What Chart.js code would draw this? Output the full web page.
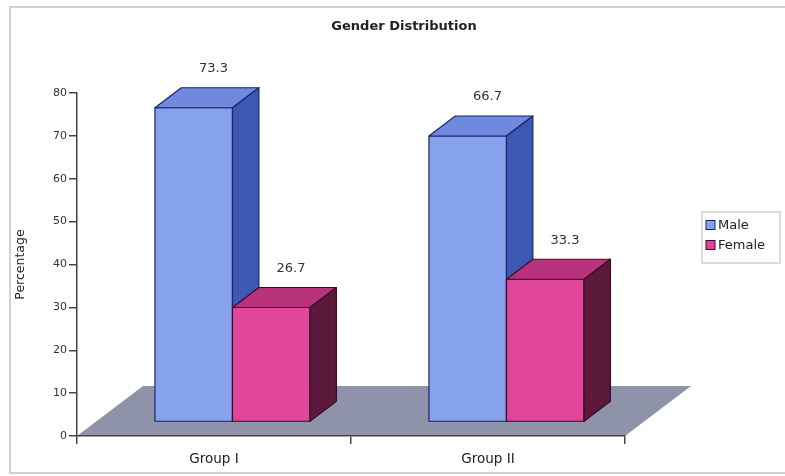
<!DOCTYPE html>
<html>
<head>
<meta charset="utf-8">
<script src="https://cdn.jsdelivr.net/npm/chart.js@4/dist/chart.umd.min.js"></script>
<style>
  html, body { margin: 0; padding: 0; background: #fff; }
  #wrap { width: 785px; height: 476px; }
</style>
</head>
<body>
<div id="wrap"><canvas id="chart" width="785" height="476"></canvas></div>
<script>
// Categories, series and axis ticks
const groups = ['Group I', 'Group II'];
const maleValues = [73.3, 66.7];
const femaleValues = [26.7, 33.3];
const percentTicks = [0, 10, 20, 30, 40, 50, 60, 70, 80];

const FONT = 'DejaVu Sans';

// Perspective of the floor and where the columns sit inside its depth
const DEPTH = { dx: 66, dy: -50 };
const BAR_FRONT = 0.28;
const BAR_BACK = 0.68;

const faces = {
  Male:   { front: '#87a2ec', top: '#6e89dd', side: '#3d58b2', edge: '#1c2565' },
  Female: { front: '#e1469d', top: '#b9337c', side: '#5b1a3c', edge: '#3a0c24' }
};

function poly(ctx, pts, fill, stroke) {
  ctx.beginPath();
  ctx.moveTo(pts[0][0], pts[0][1]);
  for (let i = 1; i < pts.length; i++) ctx.lineTo(pts[i][0], pts[i][1]);
  ctx.closePath();
  ctx.fillStyle = fill;
  ctx.fill();
  if (stroke) {
    ctx.strokeStyle = stroke;
    ctx.lineWidth = 1.2;
    ctx.lineJoin = 'round';
    ctx.stroke();
  }
}

const column3d = {
  id: 'column3d',
  beforeDraw(chart) {
    const ctx = chart.ctx;
    const area = chart.chartArea;
    ctx.save();
    ctx.fillStyle = '#ffffff';
    ctx.fillRect(0, 0, chart.width, chart.height);
    // outer frame
    ctx.strokeStyle = '#d2d2d2';
    ctx.lineWidth = 2;
    ctx.strokeRect(10, 7, chart.width + 10, chart.height - 10);
    // floor
    const y0 = chart.scales.y.getPixelForValue(0);
    poly(ctx, [
      [area.left, y0],
      [area.right, y0],
      [area.right + DEPTH.dx, y0 + DEPTH.dy],
      [area.left + DEPTH.dx, y0 + DEPTH.dy]
    ], '#8e93a9');
    ctx.restore();
  },
  beforeDatasetDraw() {
    return false;
  },
  afterDatasetsDraw(chart) {
    const ctx = chart.ctx;
    const fx = DEPTH.dx * BAR_FRONT, fy = DEPTH.dy * BAR_FRONT;
    const bx = DEPTH.dx * (BAR_BACK - BAR_FRONT), by = DEPTH.dy * (BAR_BACK - BAR_FRONT);
    ctx.save();
    chart.data.labels.forEach((_, i) => {
      chart.data.datasets.forEach((ds, d) => {
        const el = chart.getDatasetMeta(d).data[i];
        const c = faces[ds.label];
        const l = el.x - el.width / 2 + fx;
        const r = el.x + el.width / 2 + fx;
        const t = el.y + fy;
        const b = el.base + fy;
        poly(ctx, [[l, t], [r, t], [r, b], [l, b]], c.front, c.edge);
        poly(ctx, [[l, t], [r, t], [r + bx, t + by], [l + bx, t + by]], c.top, c.edge);
        poly(ctx, [[r, t], [r + bx, t + by], [r + bx, b + by], [r, b]], c.side, c.edge);
      });
    });
    // value labels above each column
    ctx.font = '13px "' + FONT + '"';
    ctx.fillStyle = '#333';
    ctx.textAlign = 'center';
    ctx.textBaseline = 'middle';
    chart.data.datasets.forEach((ds, d) => {
      chart.getDatasetMeta(d).data.forEach((el, i) => {
        const x = el.x + fx + bx * 0.75;
        const y = el.y + fy + by - 19;
        ctx.fillText(ds.data[i].toFixed(1), x, y);
      });
    });
    ctx.restore();
  },
  afterDraw(chart) {
    const ctx = chart.ctx;
    ctx.save();
    // title
    ctx.font = 'bold 13px "' + FONT + '"';
    ctx.fillStyle = '#222';
    ctx.textAlign = 'center';
    ctx.textBaseline = 'middle';
    ctx.fillText('Gender Distribution', 404, 27);
    // legend
    ctx.strokeStyle = '#cfcfcf';
    ctx.lineWidth = 1.5;
    ctx.strokeRect(702, 212, 78, 51);
    ctx.font = '13px "' + FONT + '"';
    ctx.textAlign = 'left';
    chart.data.datasets.forEach((ds, d) => {
      const c = faces[ds.label];
      const cy = 225 + d * 20;
      ctx.fillStyle = c.front;
      ctx.fillRect(706, cy - 4.5, 9, 9);
      ctx.strokeStyle = c.edge;
      ctx.lineWidth = 1;
      ctx.strokeRect(706, cy - 4.5, 9, 9);
      ctx.fillStyle = '#222';
      ctx.fillText(ds.label, 718, cy + 0.5);
    });
    ctx.restore();
  }
};

new Chart(document.getElementById('chart'), {
  type: 'bar',
  data: {
    labels: groups,
    datasets: [
      { label: 'Male', data: maleValues, backgroundColor: faces.Male.front },
      { label: 'Female', data: femaleValues, backgroundColor: faces.Female.front }
    ]
  },
  options: {
    responsive: false,
    animation: false,
    devicePixelRatio: 1,
    layout: { padding: { top: 93, left: 0, right: 160, bottom: 0 } },
    categoryPercentage: 0.566,
    barPercentage: 1,
    plugins: {
      legend: { display: false },
      title: { display: false },
      tooltip: { enabled: false }
    },
    scales: {
      x: {
        afterFit: s => { s.height = 40; },
        grid: { offset: true, drawOnChartArea: false, drawTicks: true, tickLength: 8, color: '#444', lineWidth: 1.5 },
        border: { color: '#444', width: 1.5 },
        ticks: { padding: 7, color: '#222', font: { family: FONT, size: 13.5 } }
      },
      y: {
        min: percentTicks[0],
        max: percentTicks[percentTicks.length - 1],
        afterFit: s => { s.width = 77; },
        afterBuildTicks: s => { s.ticks = percentTicks.map(v => ({ value: v })); },
        grid: { drawOnChartArea: false, drawTicks: true, tickLength: 8, color: '#444', lineWidth: 1.5 },
        border: { color: '#444', width: 1.5 },
        ticks: { padding: 2, color: '#333', font: { family: FONT, size: 11 } },
        title: {
          display: true,
          text: 'Percentage',
          color: '#222',
          font: { family: FONT, size: 12.5 },
          padding: { top: 13, bottom: 0 }
        }
      }
    }
  },
  plugins: [column3d]
});
</script>
</body>
</html>
